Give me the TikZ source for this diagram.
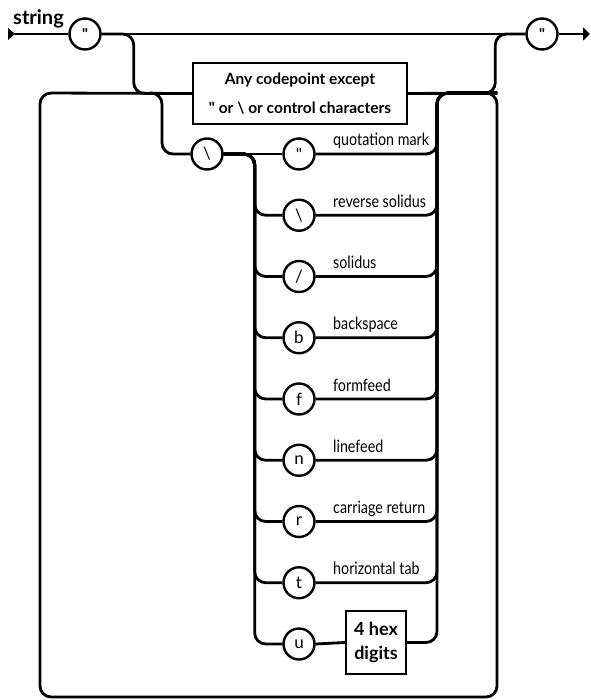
\documentclass[tikz,border=0pt]{standalone}
\usepackage{fontspec}
\setmainfont{Lato}[Ligatures=TeXOff]
\usetikzlibrary{arrows.meta,calc,backgrounds}
\begin{document}
\begin{tikzpicture}[x=1pt,y=-1pt,
  rail/.style={draw, line width=2.8pt, rounded corners=11pt},
  term/.style={circle, draw, fill=white, line width=2.4pt, minimum size=31pt, inner sep=0pt, font=\fontsize{17}{17}\selectfont},
  qterm/.style={term, font=\bfseries\fontsize{15}{15}\selectfont},
  nonterm/.style={rectangle, draw, fill=white, line width=2.2pt, inner sep=0pt, align=center, font=\bfseries\fontsize{15.5}{29}\selectfont},
  lbl/.style={anchor=base west, inner sep=0pt, font=\fontsize{17}{17}\selectfont},
  title/.style={anchor=base west, inner sep=0pt, font=\bfseries\fontsize{20}{20}\selectfont}]
\useasboundingbox (0,0) rectangle (590,700);
% coordinates
\coordinate (st) at (8,34);
\coordinate (en) at (590,34);
\coordinate (jr) at (497,93);
\coordinate (bR) at (497,697);
\coordinate (bL) at (40,697);
\coordinate (tL) at (40,93);
\coordinate (jl) at (150,93);
\coordinate (rv) at (437,93);
% nodes
\node[qterm] (q1) at (85,34) {"};
\node[qterm] (q2) at (542,34) {"};
\node[title] (ttl) at (13,25) {string};
\node[nonterm, minimum width=214pt, minimum height=61pt] (box) at (300,93.5) {Any codepoint except\\" or \textbackslash{} or control characters};
\node[term] (bs) at (207,154) {\textbackslash};
\foreach \n/\c/\t [count=\k from 0] in {e1/"/quotation mark, e2/\textbackslash/reverse solidus, e3/\slash/solidus, e4/b/backspace, e5/f/formfeed, e6/n/linefeed, e7/r/carriage return, e8/t/horizontal tab, e9/u/} {
  \pgfmathsetmacro{\yy}{154+61.25*\k}
  \node[term] (\n) at (299,\yy) {\c};
  \node[lbl] (\n l) at (333,\yy-8) {\scalebox{0.84}[1]{\t}};
}
\node[nonterm, minimum width=60pt, minimum height=63pt, font=\bfseries\fontsize{18}{24}\selectfont] (hex) at (376,642.5) {4 hex\\digits};
% rails
\begin{scope}[on background layer]
\fill (8,28) -- (15,34) -- (8,40) -- cycle;
\draw[line width=2.8pt] (st) -- (q1.west);
\draw[line width=2.8pt] (q1.east) -- (q2.west);
\draw[line width=2.8pt, -{Triangle[length=7pt,width=13pt]}] (q2.east) -- (en);
\draw[rail] (q1.east) -- ++(32,0) |- (box.west);
\draw[rail] (box.east) -| ($(q2.west)+(-30,0)$) -- (q2.west);
\draw[rail] (box.east) -- (jr) -- (bR) -- (bL) -- (tL) -- (box.west);
\draw[rail] (jl) -- ++(12,0) |- (bs.west);
\draw[rail] (bs.east) -- (e1.west);
\foreach \n in {e2,e3,e4,e5,e6,e7,e8,e9} {
  \draw[rail] (bs.east) -- ++(31,0) |- (\n.west);
}
\foreach \n in {e1,e2,e3,e4,e5,e6,e7,e8} {
  \draw[rail] (\n.east) -| (rv) -- (jr);
}
\draw[rail] (e9.east) -- (hex.west);
\draw[rail] (hex.east) -| (rv) -- (jr);
\end{scope}
\end{tikzpicture}
\end{document}
